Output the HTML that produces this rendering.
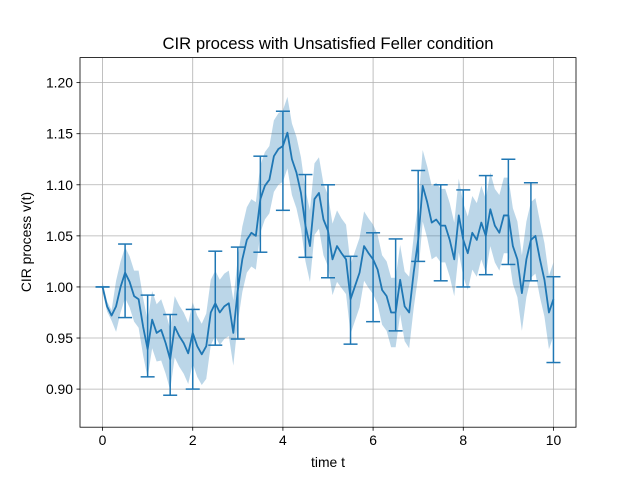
<!DOCTYPE html>
<html><head><meta charset="utf-8"><style>
html,body{margin:0;padding:0;background:#fff;}
svg{display:block;font-family:"Liberation Sans",sans-serif;}
</style></head><body>
<svg id="chart" width="640" height="480" viewBox="0 0 640 480">
<rect x="0" y="0" width="640" height="480" fill="#fff"/>
<g id="grid"></g>
<g id="band"></g>
<g id="line"></g>
<g id="errs"></g>
<rect x="80" y="57.6" width="496" height="369.6" fill="none" stroke="#000" stroke-width="0.8"/>
<g id="ticks"></g>
<text x="328" y="49" text-anchor="middle" font-size="16.7">CIR process with Unsatisfied Feller condition</text>
<text x="328" y="467" text-anchor="middle" font-size="13.9">time t</text>
<text x="31" y="242" text-anchor="middle" font-size="13.9" transform="rotate(-90 31 242)">CIR process v(t)</text>
</svg>
<script>
const lineValues=[1.00,0.981,0.972,0.981,1.00,1.014,1.005,0.991,0.988,0.961,0.939,0.968,0.955,0.958,0.945,0.929,0.961,0.952,0.945,0.935,0.955,0.942,0.934,0.942,0.975,0.984,0.975,0.981,0.984,0.955,0.997,1.027,1.046,1.053,1.05,1.086,1.099,1.105,1.128,1.135,1.138,1.151,1.125,1.112,1.092,1.06,1.04,1.086,1.092,1.066,1.055,1.027,1.04,1.033,1.027,0.988,1.001,1.014,1.04,1.033,1.027,1.017,0.997,0.991,0.975,0.975,1.007,0.981,0.975,1.014,1.046,1.099,1.083,1.063,1.066,1.06,1.06,1.046,1.027,1.07,1.046,1.033,1.053,1.046,1.063,1.05,1.076,1.06,1.053,1.07,1.07,1.04,1.027,0.994,1.027,1.046,1.05,1.027,1.007,0.975,0.988];
const errTimes=[0,0.5,1,1.5,2,2.5,3,3.5,4,4.5,5,5.5,6,6.5,7,7.5,8,8.5,9,9.5,10];
const errMid=[1.00,1.006,0.952,0.9335,0.939,0.989,0.994,1.081,1.1235,1.0695,1.0545,0.987,1.0095,1.002,1.0695,1.053,1.0475,1.0605,1.0735,1.054,0.968];
const errHalf=[0,0.036,0.040,0.0395,0.039,0.046,0.045,0.047,0.0485,0.0405,0.0455,0.043,0.0435,0.045,0.0445,0.047,0.0475,0.0485,0.0515,0.048,0.042];
const bandHalf=[0.005,0.025,0.028,0.03,0.03,0.032,0.032,0.033,0.035,0.035,0.035,0.034,0.034,0.034,0.035,0.036,0.036,0.036,0.037,0.037,0.036];
const xTicks=[0,2,4,6,8,10];
const yTicks=[0.90,0.95,1.00,1.05,1.10,1.15,1.20];
const X0=80,X1=576,Y0=427.2,Y1=57.6,xmin=-0.5,xmax=10.5,ymin=0.8627,ymax=1.2245;
const xs=t=>X0+(t-xmin)/(xmax-xmin)*(X1-X0);
const ys=v=>Y0-(v-ymin)/(ymax-ymin)*(Y0-Y1);
const NS='http://www.w3.org/2000/svg';
function mk(tag,parent){const e=document.createElementNS(NS,tag);document.getElementById(parent).appendChild(e);return e;}
const dt=10/(lineValues.length-1);
xTicks.forEach(t=>{
 const g=mk('line','grid');g.setAttribute('x1',xs(t));g.setAttribute('x2',xs(t));g.setAttribute('y1',Y1);g.setAttribute('y2',Y0);g.setAttribute('stroke','#b0b0b0');g.setAttribute('stroke-width','0.8');
 
 
 const tk=mk('line','ticks');tk.setAttribute('x1',xs(t));tk.setAttribute('x2',xs(t));tk.setAttribute('y1',Y0);tk.setAttribute('y2',Y0+3.5);tk.setAttribute('stroke','#000');tk.setAttribute('stroke-width','0.8');
 
 
 const tx=mk('text','ticks');tx.setAttribute('x',xs(t));tx.setAttribute('y',Y0+18);tx.setAttribute('text-anchor','middle');tx.setAttribute('font-size','13.9');tx.textContent=t;
 
 
});
yTicks.forEach(v=>{
 const g=mk('line','grid');g.setAttribute('x1',X0);g.setAttribute('x2',X1);g.setAttribute('y1',ys(v));g.setAttribute('y2',ys(v));g.setAttribute('stroke','#b0b0b0');g.setAttribute('stroke-width','0.8');
 
 
 const tk=mk('line','ticks');tk.setAttribute('x1',X0-3.5);tk.setAttribute('x2',X0);tk.setAttribute('y1',ys(v));tk.setAttribute('y2',ys(v));tk.setAttribute('stroke','#000');tk.setAttribute('stroke-width','0.8');
 
 
 const tx=mk('text','ticks');tx.setAttribute('x',X0-7);tx.setAttribute('y',ys(v)+5);tx.setAttribute('text-anchor','end');tx.setAttribute('font-size','13.9');tx.textContent=v.toFixed(2);
 
 
});
// band
let up=[],lo=[];
lineValues.forEach((v,i)=>{const t=i*dt;const h=bandHalf[Math.round(t*2)];up.push(xs(t)+','+ys(v+h));lo.unshift(xs(t)+','+ys(v-h));});
const bp=mk('polygon','band');bp.setAttribute('points',up.concat(lo).join(' '));bp.setAttribute('fill','#1f77b4');bp.setAttribute('fill-opacity','0.3');


const lp=mk('polyline','line');lp.setAttribute('points',lineValues.map((v,i)=>xs(i*dt)+','+ys(v)).join(' '));lp.setAttribute('fill','none');lp.setAttribute('stroke','#1f77b4');lp.setAttribute('stroke-width','1.8');lp.setAttribute('stroke-linejoin','round');


errTimes.forEach((t,i)=>{
 const x=xs(t),a=ys(errMid[i]-errHalf[i]),b=ys(errMid[i]+errHalf[i]);
 const segs=[[x,a,x,b],[x-7,a,x+7,a],[x-7,b,x+7,b]];
 segs.forEach(s=>{const l=mk('line','errs');l.setAttribute('x1',s[0]);l.setAttribute('y1',s[1]);l.setAttribute('x2',s[2]);l.setAttribute('y2',s[3]);l.setAttribute('stroke','#1f77b4');l.setAttribute('stroke-width','1.5');
 
 });
});
</script>
</body></html>
